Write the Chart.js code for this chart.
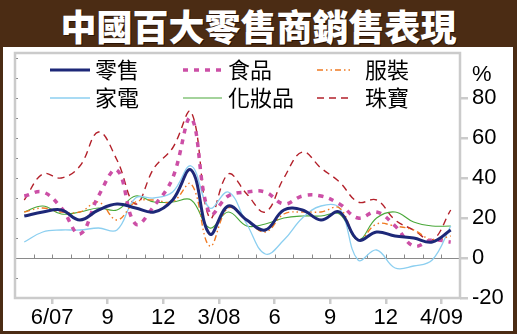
<!DOCTYPE html>
<html>
<head>
<meta charset="utf-8">
<script src="https://cdn.jsdelivr.net/npm/chart.js@4.4.0/dist/chart.umd.min.js"></script>
<style>
    body { margin: 0; }
    #frame { position: relative; width: 517px; height: 334px; background: #4b2c14; overflow: hidden; }
    #title {
        position: absolute; left: 0; top: 0; width: 517px; height: 47px; line-height: 50px;
        text-align: center; color: #fff; font-family: "Noto Sans CJK TC"; font-weight: 900;
        font-size: 36px; text-shadow: 1px 1px 0 #2a1406;
    }
    #panel { position: absolute; left: 3px; top: 47px; width: 510px; height: 284px; background: #fff; }
    #myChart { position: absolute; left: 0; top: 0; }
</style>
</head>
<body>
<div id="frame">
    <div id="title">中國百大零售商銷售表現</div>
    <div id="panel"></div>
    <canvas id="myChart" width="517" height="334"></canvas>
</div>
<script>
// Tháng (mỗi điểm nằm giữa một tháng)
const months = ['4/07', '5/07', '6/07', '7/07', '8/07', '9/07', '10/07', '11/07', '12/07',
    '1/08', '2/08', '3/08', '4/08', '5/08', '6/08', '7/08', '8/08', '9/08', '10/08',
    '11/08', '12/08', '1/09', '2/09', '3/09'];
const tickLabels = ['6/07', '9', '12', '3/08', '6', '9', '12', '4/09'];
const tickIndex = [2, 5, 8, 11, 14, 17, 20, 23];
const yTicks = [-20, 0, 20, 40, 60, 80];

// Tăng trưởng doanh số (%)
const retail     = [21, 23, 24, 19, 24, 27, 25, 23, 29, 44, 12, 26, 19, 14, 24, 24, 19, 23, 9, 13, 11, 10, 8, 14];
const food       = [31, 33, 25, 12, 31, 44, 17, 26, 40, 70, 22, 31, 33, 33, 27, 31, 31, 27, 20, 23, 16, 6, 9, 8];
const apparel    = [23, 25, 23, 23, 28, 19, 28, 29, 28, 37, 6, 25, 19, 13, 22, 23, 23, 25, 9, 17, 16, 14, 9, 11];
const appliances = [8, 13, 14, 14, 15, 14, 30, 30, 33, 46, 25, 33, 17, 2, 9, 20, 26, 25, -1, 4, -5, -4, -1, 16];
const cosmetics  = [23, 26, 22, 23, 25, 24, 31, 28, 28, 29, 15, 23, 16, 17, 20, 21, 21, 22, 9, 20, 23, 18, 16, 16];
const jewelry    = [29, 42, 40, 46, 63, 49, 27, 45, 55, 73, 20, 42, 32, 23, 40, 53, 45, 38, 28, 29, 19, 14, 9, 24];

const toPoints = arr => arr.map((v, i) => ({ x: i + 0.5, y: v }));
const numFont = '"Liberation Sans", Arial, sans-serif';

// Khung, đường 0, vạch nhỏ, chú thích
const decor = {
    id: 'decor',
    beforeDatasetsDraw(chart) {
        const { ctx, chartArea: a, scales: { x, y } } = chart;
        ctx.save();
        const y0 = Math.round(y.getPixelForValue(0)) + 0.5;
        ctx.strokeStyle = '#8a8a8a';
        ctx.lineWidth = 1;
        ctx.beginPath();
        ctx.moveTo(a.left, y0);
        ctx.lineTo(a.right, y0);
        for (let i = 1; i < months.length; i++) {
            const px = Math.round(x.getPixelForValue(i)) + 0.5;
            ctx.moveTo(px, y0);
            ctx.lineTo(px, y0 - 4);
        }
        for (let v = -10; v <= 100; v += 10) {
            const py = Math.round(y.getPixelForValue(v)) + 0.5;
            ctx.moveTo(a.left, py);
            ctx.lineTo(a.left + 3, py);
        }
        ctx.stroke();
        ctx.restore();
    },
    afterDraw(chart) {
        const { ctx, chartArea: a } = chart;
        ctx.save();
        ctx.strokeStyle = '#cbcbcb';
        ctx.lineWidth = 2.5;
        ctx.strokeRect(a.left, a.top, a.right - a.left, a.bottom - a.top);

        ctx.fillStyle = '#000';
        ctx.font = '22px ' + numFont;
        ctx.textBaseline = 'middle';
        ctx.fillText('%', 472, 75);

        // chú thích 3 cột x 2 hàng
        const cols = [[50, 90, 95], [183, 222, 228], [317, 353, 365]];
        const rows = [70, 98];
        ctx.font = '22px "Noto Sans CJK TC"';
        chart.data.datasets.forEach((ds, i) => {
            const c = cols[i % 3];
            const ry = rows[Math.floor(i / 3)];
            ctx.beginPath();
            ctx.strokeStyle = ds.borderColor;
            ctx.lineWidth = ds.borderWidth;
            ctx.setLineDash(ds.borderDash || []);
            ctx.moveTo(c[0], ry);
            ctx.lineTo(c[1], ry);
            ctx.stroke();
            ctx.setLineDash([]);
            ctx.fillStyle = '#000';
            ctx.fillText(ds.label, c[2], ry);
        });
        ctx.restore();
    }
};

const ctx = document.getElementById('myChart');
new Chart(ctx.getContext('2d'), {
    type: 'line',
    data: {
        datasets: [
            { label: '零售', data: toPoints(retail), borderColor: '#1d2878', borderWidth: 3 },
            { label: '食品', data: toPoints(food), borderColor: '#cc4fa6', borderWidth: 3.5, borderDash: [5, 6] },
            { label: '服裝', data: toPoints(apparel), borderColor: '#f07a22', borderWidth: 1.4, borderDash: [6, 3, 1.5, 3, 1.5, 3] },
            { label: '家電', data: toPoints(appliances), borderColor: '#8ccff0', borderWidth: 1.3 },
            { label: '化妝品', data: toPoints(cosmetics), borderColor: '#4aa83a', borderWidth: 1.1 },
            { label: '珠寶', data: toPoints(jewelry), borderColor: '#b3202a', borderWidth: 1.4, borderDash: [7, 5] }
        ]
    },
    options: {
        responsive: false,
        animation: false,
        layout: { padding: { left: 15, top: 53, right: 0, bottom: 0 } },
        elements: { point: { radius: 0 }, line: { tension: 0.4, fill: false } },
        plugins: { legend: { display: false }, tooltip: { enabled: false } },
        scales: {
            x: {
                type: 'linear', min: 0, max: months.length,
                afterBuildTicks: s => { s.ticks = tickIndex.map(v => ({ value: v })); },
                afterFit: s => { s.height = 36; },
                ticks: {
                    callback: v => tickLabels[tickIndex.indexOf(v)],
                    font: { size: 22, family: numFont }, color: '#000',
                    padding: 1, maxRotation: 0, autoSkip: false
                },
                grid: { drawOnChartArea: false, color: '#cbcbcb', lineWidth: 2.5, tickLength: 6 },
                border: { display: false }
            },
            y: {
                position: 'right', min: -20, max: 102.5,
                afterBuildTicks: s => { s.ticks = yTicks.map(v => ({ value: v })); },
                afterFit: s => { s.width = 57; },
                ticks: { font: { size: 22, family: numFont }, color: '#000', padding: 4 },
                grid: { drawOnChartArea: false, color: '#cbcbcb', lineWidth: 2.5, tickLength: 8 },
                border: { display: false }
            }
        }
    },
    plugins: [decor]
});
</script>
</body>
</html>
